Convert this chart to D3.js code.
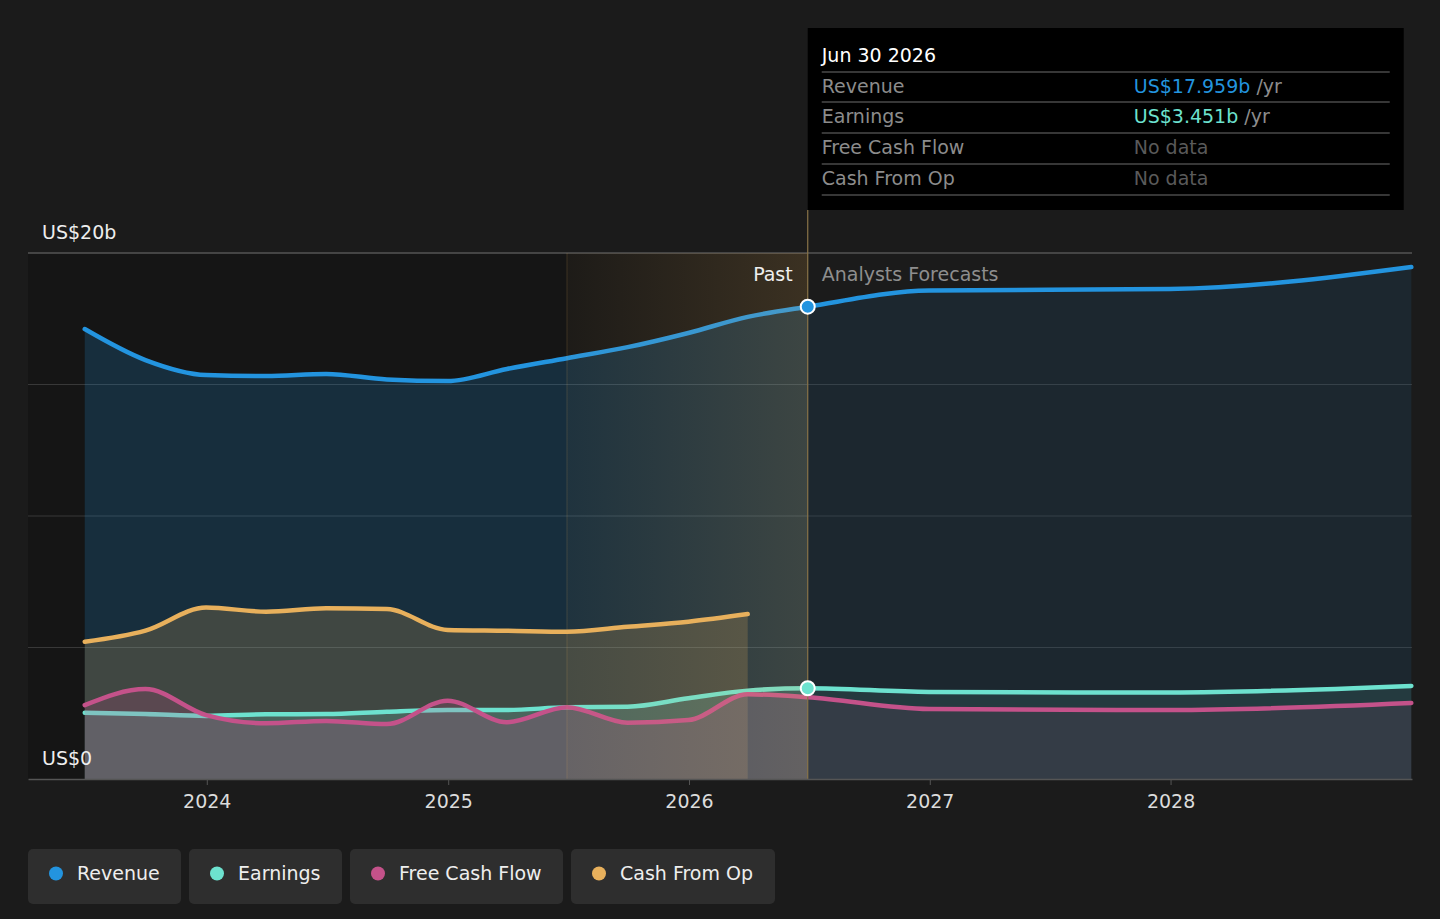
<!DOCTYPE html>
<html>
<head>
<meta charset="utf-8">
<script src="https://cdn.jsdelivr.net/npm/d3@7"></script>
<style>
  html, body { margin: 0; padding: 0; background: #1b1b1b; }
  svg { display: block; font-family: "DejaVu Sans", sans-serif; }
</style>
</head>
<body>
<div id="chart"></div>
<script>
// data (US$ billions)
var pastDates = ["2023-06-30","2023-09-30","2023-12-31","2024-03-31","2024-06-30","2024-09-30",
                 "2024-12-31","2025-03-31","2025-06-30","2025-09-30","2025-12-31","2026-03-31","2026-06-30"];
var foreDates = ["2026-06-30","2026-12-31","2027-12-31","2028-12-31"];

var revenuePast  = [17.11, 15.93, 15.36, 15.32, 15.40, 15.19, 15.13, 15.59, 16.00, 16.42, 16.96, 17.57, 17.959];
var revenueFore  = [17.959, 18.57, 18.63, 19.47];
var earningsPast = [2.52, 2.47, 2.40, 2.46, 2.47, 2.56, 2.62, 2.62, 2.73, 2.75, 3.07, 3.36, 3.451];
var earningsFore = [3.451, 3.31, 3.29, 3.54];
var fcfPast      = [2.81, 3.42, 2.43, 2.12, 2.21, 2.09, 2.98, 2.16, 2.73, 2.14, 2.24, 3.22, 3.11];
var fcfFore      = [3.11, 2.66, 2.62, 2.89];
var cfoPast      = [5.22, 5.64, 6.52, 6.36, 6.49, 6.46, 5.67, 5.64, 5.60, 5.79, 5.98, 6.27];

var seriesNames  = ["Revenue", "Earnings", "Free Cash Flow", "Cash From Op"];
var seriesColors = ["#2394df", "#6de2cf", "#c4528a", "#e8b05c"];
var yTicks = [0, 5, 10, 15, 20];
var yLabels = {0: "US$0", 20: "US$20b"};
var tipRows = [["Revenue", "US$17.959b", " /yr"], ["Earnings", "US$3.451b", " /yr"],
               ["Free Cash Flow", "No data", ""], ["Cash From Op", "No data", ""]];

function init(){
    var w = 1440, h = 919;
    var parse = d3.timeParse("%Y-%m-%d");
    var left = 28, right = 1412, top = 253, bottom = 779;

    var x = d3.scaleTime()
        .domain([new Date(2023, 3, 5), new Date(2029, 0, 1)])
        .range([left, right]);
    var y = d3.scaleLinear().domain([0, 20]).range([bottom, top]);

    var nowDate = parse("2026-06-30");
    var bandDate = parse("2025-06-30");
    var xNow = x(nowDate), xBand = x(bandDate);

    function pts(dates, vals){
        return vals.map(function(v, i){ return {date: parse(dates[i]), value: v}; });
    }
    var revenue  = pts(pastDates, revenuePast).concat(pts(foreDates, revenueFore).slice(1));
    var earnings = pts(pastDates, earningsPast).concat(pts(foreDates, earningsFore).slice(1));
    var fcf      = pts(pastDates, fcfPast).concat(pts(foreDates, fcfFore).slice(1));
    var cfo      = pts(pastDates, cfoPast);

    var svg = d3.select("#chart").append("svg").attr("width", w).attr("height", h);
    var defs = svg.append("defs");

    defs.append("clipPath").attr("id", "clipPast").append("rect")
        .attr("x", left).attr("y", 0).attr("width", xNow - left).attr("height", bottom);
    defs.append("clipPath").attr("id", "clipFore").append("rect")
        .attr("x", xNow).attr("y", 0).attr("width", right - xNow).attr("height", bottom);

    var gold = defs.append("linearGradient").attr("id", "goldBand")
        .attr("x1", "0%").attr("x2", "100%").attr("y1", "0%").attr("y2", "0%");
    gold.append("stop").attr("offset", "0%").attr("stop-color", "#e8b05c").attr("stop-opacity", 0.04);
    gold.append("stop").attr("offset", "100%").attr("stop-color", "#e8b05c").attr("stop-opacity", 0.18);

    svg.append("rect").attr("width", w).attr("height", h).attr("fill", "#1b1b1b");

    // darker past region
    svg.append("rect")
        .attr("x", left).attr("y", top)
        .attr("width", xNow - left).attr("height", bottom - top)
        .attr("fill", "#000").attr("opacity", 0.2);

    // grid
    svg.selectAll(".grid")
        .data(yTicks.filter(function(d){ return d > 0; }))
        .enter().append("line")
        .attr("x1", left).attr("x2", right)
        .attr("y1", function(d){ return y(d); })
        .attr("y2", function(d){ return y(d); })
        .attr("stroke", function(d){ return d === 20 ? "#555" : "#383838"; })
        .attr("stroke-width", function(d){ return d === 20 ? 1.5 : 1; });

    var line = d3.line().curve(d3.curveMonotoneX)
        .x(function(d){ return x(d.date); })
        .y(function(d){ return y(d.value); });
    var area = d3.area().curve(d3.curveMonotoneX)
        .x(function(d){ return x(d.date); })
        .y0(y(0))
        .y1(function(d){ return y(d.value); });

    function drawSeries(data, color){
        svg.append("path").datum(data).attr("d", area)
            .attr("fill", color).attr("fill-opacity", 0.2)
            .attr("clip-path", "url(#clipPast)");
        svg.append("path").datum(data).attr("d", area)
            .attr("fill", color).attr("fill-opacity", 0.1)
            .attr("clip-path", "url(#clipFore)");
        svg.append("path").datum(data).attr("d", line)
            .attr("fill", "none").attr("stroke", color)
            .attr("stroke-width", 4.5).attr("stroke-linecap", "round");
    }
    drawSeries(revenue, seriesColors[0]);
    drawSeries(cfo, seriesColors[3]);
    drawSeries(earnings, seriesColors[1]);
    drawSeries(fcf, seriesColors[2]);

    // highlighted last year band
    svg.append("rect")
        .attr("x", xBand).attr("y", top)
        .attr("width", xNow - xBand).attr("height", bottom - top)
        .attr("fill", "url(#goldBand)");
    svg.append("line")
        .attr("x1", xBand).attr("x2", xBand).attr("y1", top).attr("y2", bottom)
        .attr("stroke", "#e8b05c").attr("stroke-opacity", 0.18);
    svg.append("line")
        .attr("x1", xNow).attr("x2", xNow).attr("y1", 210).attr("y2", bottom)
        .attr("stroke", "#8a7448").attr("stroke-width", 1.2);

    // x axis
    var xAxis = d3.axisBottom(x)
        .tickValues([2024, 2025, 2026, 2027, 2028].map(function(yr){ return new Date(yr, 0, 1); }))
        .tickFormat(d3.timeFormat("%Y"))
        .tickSizeInner(6).tickSizeOuter(0).tickPadding(10);
    var gx = svg.append("g").attr("transform", "translate(0," + bottom + ")").call(xAxis);
    gx.select(".domain").attr("stroke", "#555").attr("stroke-width", 1.5);
    gx.selectAll(".tick line").attr("stroke", "#555");
    gx.selectAll(".tick text").attr("fill", "#dcdcdc")
        .attr("font-size", 19).attr("font-family", "DejaVu Sans, sans-serif");

    // y labels
    svg.selectAll(".ylab")
        .data(yTicks.filter(function(d){ return yLabels[d]; }))
        .enter().append("text")
        .attr("x", 42)
        .attr("y", function(d){ return y(d) - 14; })
        .attr("fill", "#eee").attr("font-size", 19)
        .text(function(d){ return yLabels[d]; });

    // past / forecast labels
    svg.append("text").attr("x", xNow - 15).attr("y", 281)
        .attr("text-anchor", "end").attr("fill", "#eee").attr("font-size", 19).text("Past");
    svg.append("text").attr("x", xNow + 14).attr("y", 281)
        .attr("fill", "#8e8e8e").attr("font-size", 19).text("Analysts Forecasts");

    // markers at the current point
    svg.selectAll(".marker")
        .data([{v: revenueFore[0], c: seriesColors[0]}, {v: earningsFore[0], c: seriesColors[1]}])
        .enter().append("circle")
        .attr("cx", xNow).attr("cy", function(d){ return y(d.v); })
        .attr("r", 7).attr("fill", function(d){ return d.c; })
        .attr("stroke", "#fff").attr("stroke-width", 2);

    // tooltip
    var tip = svg.append("g");
    tip.append("rect").attr("x", xNow).attr("y", 28).attr("width", 596).attr("height", 182).attr("fill", "#000");
    tip.append("text").attr("x", xNow + 14).attr("y", 62).attr("fill", "#fff").attr("font-size", 19).text("Jun 30 2026");
    var rowY = [72, 102, 133, 164, 195];
    rowY.forEach(function(ry){
        tip.append("line").attr("x1", xNow + 14).attr("x2", xNow + 582)
            .attr("y1", ry).attr("y2", ry).attr("stroke", "#4a4a4a").attr("stroke-width", 1.5);
    });
    tipRows.forEach(function(r, i){
        var ty = rowY[i] + 21;
        tip.append("text").attr("x", xNow + 14).attr("y", ty)
            .attr("fill", "#8c8c8c").attr("font-size", 19).text(r[0]);
        var t = tip.append("text").attr("x", xNow + 326).attr("y", ty).attr("font-size", 19);
        var valColor = r[2] ? seriesColors[i] : "#5a5a5a";
        t.append("tspan").attr("fill", valColor).text(r[1]);
        if (r[2]) t.append("tspan").attr("fill", "#8c8c8c").text(r[2]);
    });

    // legend
    var lx = 28;
    seriesNames.forEach(function(name, i){
        var g = svg.append("g").attr("transform", "translate(" + lx + ",849)");
        var bg = g.append("rect").attr("height", 55).attr("rx", 5).attr("fill", "#2e2e2e");
        g.append("circle").attr("cx", 28).attr("cy", 24.5).attr("r", 7).attr("fill", seriesColors[i]);
        var t = g.append("text").attr("x", 49).attr("y", 31).attr("fill", "#eee")
            .attr("font-size", 19).text(name);
        var bw = Math.round(70.5 + t.node().getComputedTextLength());
        bg.attr("width", bw);
        lx += bw + 8;
    });
}
window.onload = init;
</script>
</body>
</html>
